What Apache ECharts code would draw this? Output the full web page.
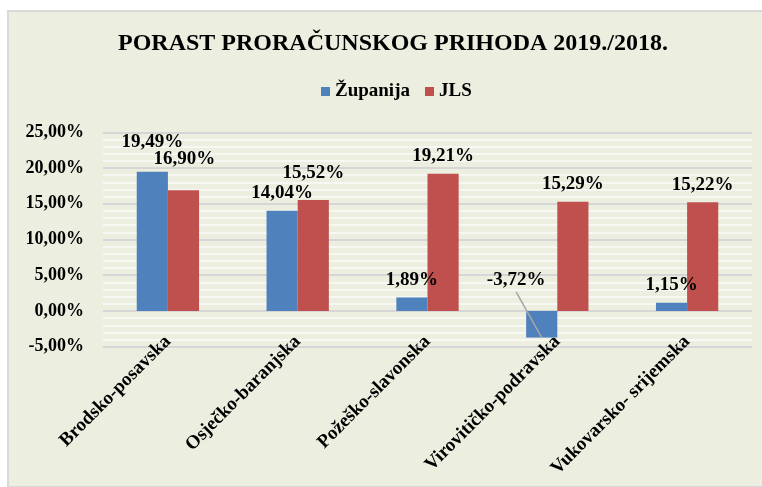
<!DOCTYPE html>
<html>
<head>
<meta charset="utf-8">
<script src="https://cdn.jsdelivr.net/npm/echarts@6/dist/echarts.min.js"></script>
<style>
html,body{margin:0;padding:0;background:#ffffff;overflow:hidden;width:762px;height:487px;}
#box{position:absolute;left:7px;top:10px;width:790px;height:474px;background:#ECEEDF;border:2px solid #D9D9D9;}
#chart{position:absolute;left:0;top:0;width:762px;height:487px;}
</style>
</head>
<body>
<div id="box"></div>
<div id="chart"></div>
<script>
// ---- data ----
const categories = ['Brodsko-posavska', 'Osječko-baranjska', 'Požeško-slavonska', 'Virovitičko-podravska', 'Vukovarsko- srijemska'];
const seriesNames = ['Županija', 'JLS'];
const zupanija = [19.49, 14.04, 1.89, -3.72, 1.15];
const jls = [16.90, 15.52, 19.21, 15.29, 15.22];
const yTicks = { min: -5, max: 25, interval: 5 };

// ---- style (label nudges, not data) ----
const zupLabelNudge = [[0, -12], [0, 0], [0, 0], null, [0, 0]];
const jlsLabelNudge = [[1, -14], [0, -9], [0, 0], [0, 0], [0, 0]];

const FONT = '"Liberation Serif", "Times New Roman", serif';
const fmt = v => v.toFixed(2).replace('.', ',') + '%';

const chart = echarts.init(document.getElementById('chart'), null, { renderer: 'canvas' });

const labelBase = {
  show: true, position: 'top', distance: 8,
  fontFamily: FONT, fontWeight: 'bold', fontSize: 19, color: '#000',
  formatter: p => fmt(p.value)
};

function build(values, nudges) {
  return values.map((v, i) => {
    const n = nudges[i];
    if (n) return { value: v, label: { offset: n } };
    // negative bar: label placed above the zero line, left of the bar
    return { value: v, label: { position: [-10, -31], align: 'center', verticalAlign: 'middle' } };
  });
}

const option = {
  backgroundColor: 'transparent',
  animation: false,
  title: {
    text: 'PORAST PRORAČUNSKOG PRIHODA 2019./2018.',
    left: 393, top: 32, padding: 0, textAlign: 'center',
    textStyle: { fontFamily: FONT, fontWeight: 'bold', fontSize: 24, color: '#000' }
  },
  legend: {
    data: seriesNames,
    left: 321, top: 82, padding: 0,
    itemWidth: 9, itemHeight: 9, itemGap: 15, icon: 'rect',
    textStyle: { fontFamily: FONT, fontWeight: 'bold', fontSize: 19, color: '#000' }
  },
  grid: { left: 103, right: 10, top: 132.3, bottom: 140.3, containLabel: false },
  xAxis: {
    type: 'category', data: categories,
    position: 'bottom',
    axisLine: { show: false, onZero: false },
    axisTick: { show: false },
    axisLabel: {
      rotate: 45, margin: -8, interval: 0,
      fontFamily: FONT, fontWeight: 'bold', fontSize: 19, color: '#000'
    }
  },
  yAxis: {
    type: 'value', min: yTicks.min, max: yTicks.max, interval: yTicks.interval,
    axisLine: { show: false }, axisTick: { show: false },
    axisLabel: {
      margin: 19, fontFamily: FONT, fontWeight: 'bold', fontSize: 18, color: '#000',
      formatter: v => fmt(v)
    },
    splitLine: { show: true, lineStyle: { color: '#D6D6D6', width: 2 } },
    minorTick: { show: false, splitNumber: 5 },
    minorSplitLine: { show: true, lineStyle: { color: '#FAFAFA', width: 1.5 } }
  },
  series: [
    {
      name: seriesNames[0], type: 'bar', data: build(zupanija, zupLabelNudge),
      barWidth: '24%', barGap: '0%',
      itemStyle: { color: '#4F81BD' }, label: labelBase
    },
    {
      name: seriesNames[1], type: 'bar', data: build(jls, jlsLabelNudge),
      barWidth: '24%', barGap: '0%',
      itemStyle: { color: '#C0504D' }, label: labelBase
    }
  ]
};
chart.setOption(option);

// leader line for the negative-value label, from library layout
const negIdx = zupanija.findIndex(v => v < 0);
if (negIdx >= 0) {
  const data = chart.getModel().getSeriesByIndex(0).getData();
  const lay = data.getItemLayout(negIdx);
  const top = Math.min(lay.y, lay.y + lay.height);
  const bottom = Math.max(lay.y, lay.y + lay.height);
  const lx = lay.x - 10, ly = top - 31 + 12;
  chart.setOption({
    graphic: [{
      type: 'line', z: 100,
      shape: { x1: lx, y1: ly, x2: lay.x + lay.width / 2, y2: bottom },
      style: { stroke: '#A6A6A6', lineWidth: 1.5 }
    }]
  });
}
</script>
</body>
</html>
